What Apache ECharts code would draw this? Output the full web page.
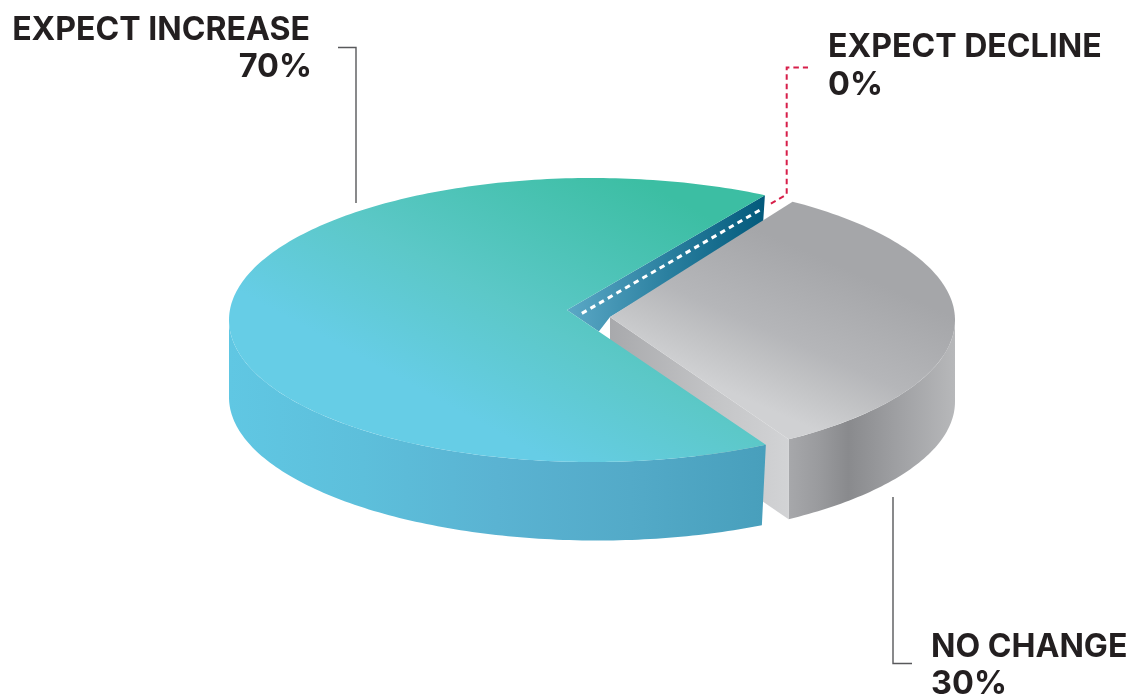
<!DOCTYPE html>
<html><head><meta charset="utf-8">
<style>html,body{margin:0;padding:0;background:#fff}#c{width:1133px;height:696px}</style>
<script src="https://cdn.jsdelivr.net/npm/echarts@6/dist/echarts.min.js"></script>
</head><body><div id="c"></div>
<script>
const categories = ['EXPECT INCREASE', 'EXPECT DECLINE', 'NO CHANGE'];
const shares = [70, 0, 30];
const shareLabels = ['70%', '0%', '30%'];

const RIM = {cx: 592, cy: 320, rx: 363, ry: 142};
const BASE = {cx: 592, cy: 399.5, rx: 363, ry: 141, shear: 0.006};
const TEAL = {apex: [567, 310], aspect: 0.455, start: 56.1, cutTilt: 4};
const GRAY = {apex: [610, 317], aspect: 0.478, start: -52.9};
const D2R = Math.PI / 180;
const HEAD_FONT = 'bold 32.1px Inter';
const NUM_FONT = 'bold 32.5px Inter';

function rayParam(g, deg) {
  const a = deg * D2R, ux = Math.cos(a), uy = g.aspect * Math.sin(a);
  const ox = (g.apex[0] - RIM.cx) / RIM.rx, oy = (g.apex[1] - RIM.cy) / RIM.ry;
  const dx = ux / RIM.rx, dy = uy / RIM.ry;
  const A = dx * dx + dy * dy, B = 2 * (ox * dx + oy * dy), C = ox * ox + oy * oy - 1;
  const s = (-B + Math.sqrt(B * B - 4 * A * C)) / (2 * A);
  return Math.atan2(oy + s * dy, ox + s * dx);
}
const rimPt = t => [RIM.cx + RIM.rx * Math.cos(t), RIM.cy + RIM.ry * Math.sin(t)];
const basePt = t => {
  const x = BASE.cx + BASE.rx * Math.cos(t);
  return [x, BASE.cy + BASE.ry * Math.sin(t) + BASE.shear * (x - BASE.cx)];
};
function arc(fn, t0, t1, n) {
  const out = [];
  for (let i = 0; i <= n; i++) out.push(fn(t0 + (t1 - t0) * i / n));
  return out;
}
const lin = (x, y, x2, y2, stops) => ({type: 'linear', global: true, x, y, x2, y2,
  colorStops: stops.map(s => ({offset: s[0], color: s[1]}))});
const poly = (points, fill, z2) => ({type: 'polygon', z2, shape: {points}, style: {fill, stroke: null}, silent: true});
const line = (points, stroke, width, dash, z2) => ({type: 'polyline', z2, shape: {points},
  style: {fill: null, stroke, lineWidth: width, lineDash: dash || null}, silent: true});
const text = (s, x, y, align, font) => ({type: 'text', z2: 20, silent: true,
  style: {text: s, x, y, align, verticalAlign: 'bottom', fill: '#231f20', font}});
const total = shares.reduce((a, b) => a + b, 0);
const sweepOf = v => v / total * 360;

function drawIncrease(p, api) {
  const sweep = sweepOf(api.value(1));
  const t0 = rayParam(TEAL, TEAL.start);
  let t1 = rayParam(TEAL, TEAL.start + sweep);
  if (t1 < t0) t1 += 2 * Math.PI;
  const tb = Math.acos((Math.cos(t0) * RIM.rx - TEAL.cutTilt) / BASE.rx);
  return {type: 'group', children: [
    poly(arc(rimPt, t0, Math.PI, 120).concat(arc(basePt, Math.PI, tb, 120)), lin(229, 0, 765, 0,
      [[0, '#60c7e3'], [0.25, '#5dbfdb'], [0.5, '#5ab3d2'], [0.75, '#53aac8'], [1, '#489fbc']]), 9),
    poly([TEAL.apex].concat(arc(rimPt, t0, t1, 240)), lin(700, 212, 561, 467,
      [[0, '#3cbea3'], [0.6, '#5cc8c8'], [1, '#66cde6']]), 10),
    line([[338, 47.5], [356, 47.5], [356, 203]], '#58595b', 1.4, null, 12),
    text(categories[0], 310, 46, 'right', HEAD_FONT),
    text(shareLabels[0], 312, 84, 'right', NUM_FONT)
  ]};
}

function drawDecline(p, api) {
  const at = TEAL.start + sweepOf(shares[0]) + sweepOf(api.value(1));
  const a = TEAL.apex, c = rimPt(rayParam(TEAL, at));
  const low = rimPt(rayParam(TEAL, TEAL.start));
  const mid = [a[0] + (low[0] - a[0]) * 0.16, a[1] + (low[1] - a[1]) * 0.16];
  const along = f => [a[0] + (c[0] - a[0]) * f, a[1] + (c[1] - a[1]) * f + 12];
  const turn = along(1.11);
  return {type: 'group', children: [
    poly([a, c, [c[0] - 2, c[1] + 30], GRAY.apex, mid], lin(567, 0, 766, 0,
      [[0, '#5ba8c6'], [0.5, '#2b80a0'], [1, '#02597b']]), 1),
    line([along(0.075), along(0.99)], '#ffffff', 3, [5.5, 4.5], 12),
    line([along(1.03), turn, [turn[0], 67.5], [808, 67.5]], '#d71f4a', 2, [5.5, 4], 12),
    text(categories[1], 828, 63, 'left', HEAD_FONT),
    text(shareLabels[1], 828, 102, 'left', NUM_FONT)
  ]};
}

function drawNoChange(p, api) {
  const sweep = sweepOf(api.value(1));
  const t0 = rayParam(GRAY, GRAY.start), t1 = rayParam(GRAY, GRAY.start + sweep);
  const c = rimPt(t1), d = basePt(t1);
  return {type: 'group', children: [
    poly(arc(rimPt, 0, t1, 60).concat(arc(basePt, t1, 0, 60)), lin(788, 0, 955, 0,
      [[0, '#a7a8ab'], [0.18, '#9a9b9e'], [0.36, '#898a8d'], [0.7, '#a2a3a6'], [1, '#b7b8ba']]), 4),
    poly([GRAY.apex, c, d, [GRAY.apex[0], GRAY.apex[1] + (d[1] - c[1])]], lin(610, 0, 788, 0,
      [[0, '#a8a9ac'], [0.6, '#c4c5c7'], [1, '#d2d3d5']]), 5),
    poly([GRAY.apex].concat(arc(rimPt, t0, t1, 100)), lin(880, 284, 815, 430,
      [[0, '#a5a6a9'], [0.55, '#b5b6b9'], [0.75, '#c1c2c4'], [1, '#d0d1d3']]), 6),
    line([[893, 497], [893, 663.5], [912, 663.5]], '#58595b', 1.4, null, 12),
    text(categories[2], 931, 663, 'left', HEAD_FONT),
    text(shareLabels[2], 931, 701, 'left', NUM_FONT)
  ]};
}

const chart = echarts.init(document.getElementById('c'), null, {renderer: 'canvas'});
const mk = (i, z, renderItem) => ({type: 'custom', coordinateSystem: 'none', z, silent: true,
  name: categories[i], renderItem, data: [[i, shares[i]]]});
chart.setOption({
  animation: false,
  backgroundColor: '#ffffff',
  series: [mk(1, 1, drawDecline), mk(2, 2, drawNoChange), mk(0, 3, drawIncrease)]
});
</script></body></html>
